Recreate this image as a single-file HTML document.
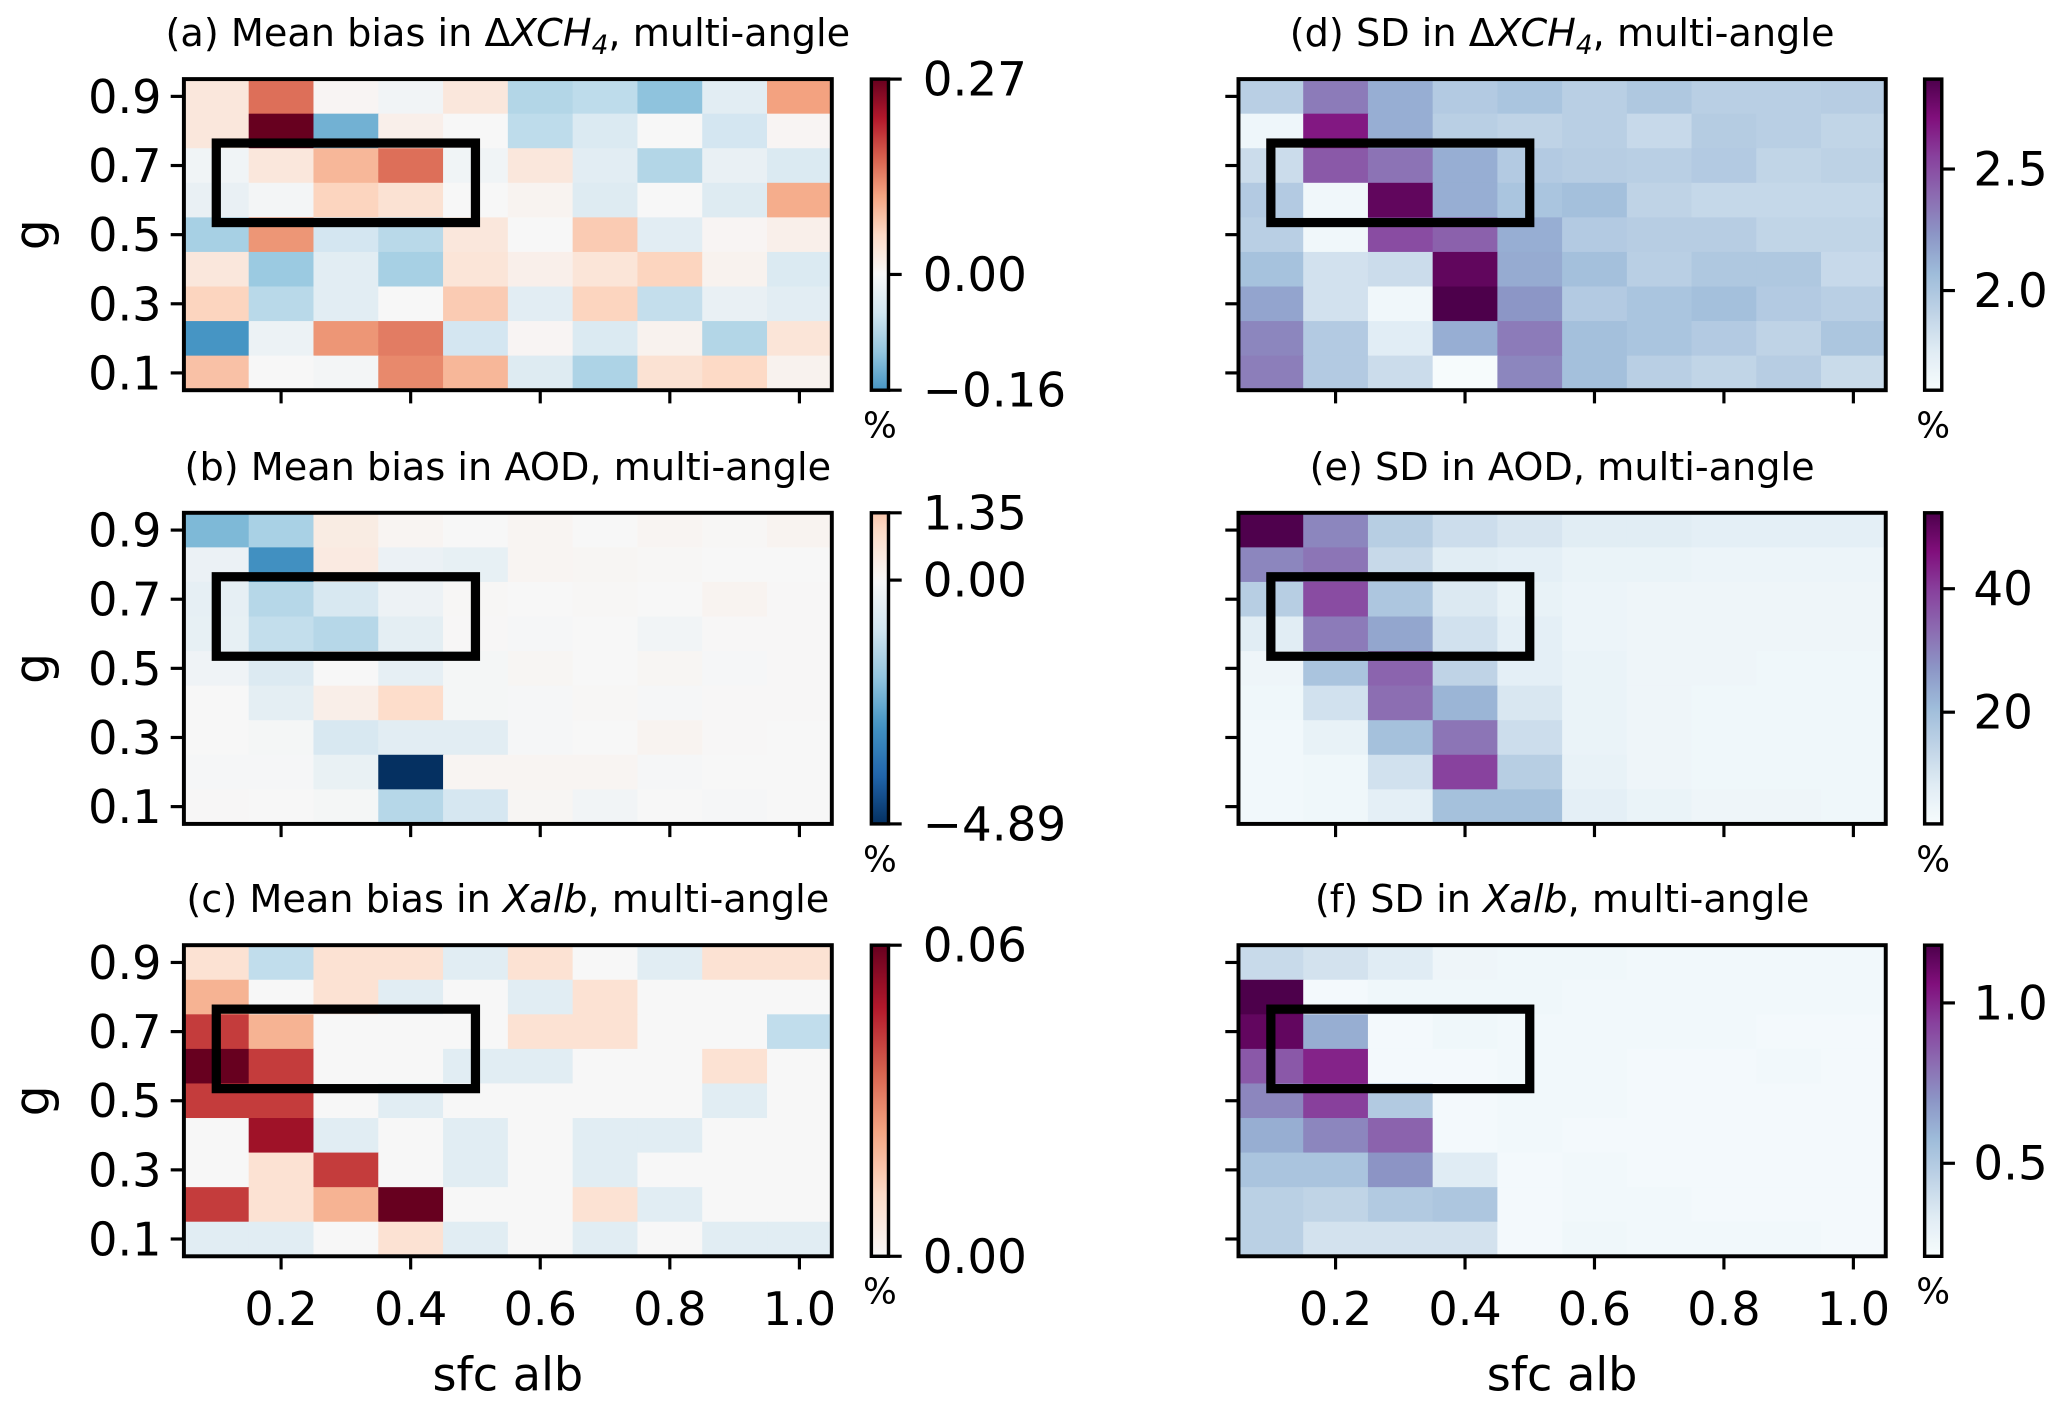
<!DOCTYPE html>
<html><head><meta charset="utf-8"><style>
html,body{margin:0;padding:0;background:#fff;}
svg{display:block;font-family:"DejaVu Sans","Liberation Sans",sans-serif;}
</style></head><body>
<svg id="fig" width="2067" height="1410" viewBox="0 0 1568 1069.6" xmlns="http://www.w3.org/2000/svg"></svg>
<script>
// ---------- data (rows from g=0.9 at top to g=0.1 at bottom; columns sfc alb 0.1..1.0) ----------
const albCategories = [0.1,0.2,0.3,0.4,0.5,0.6,0.7,0.8,0.9,1.0];
const gCategories = [0.9,0.8,0.7,0.6,0.5,0.4,0.3,0.2,0.1];
const xTickLabels = ["0.2","0.4","0.6","0.8","1.0"];
const yTickLabels = ["0.9","0.7","0.5","0.3","0.1"];

const biasXCH4 = [
 [0.03,0.15,0.005,-0.008,0.03,-0.08,-0.07,-0.11,-0.03,0.11],
 [0.03,0.27,-0.13,0.015,0,-0.07,-0.04,0,-0.05,0.005],
 [-0.01,0.03,0.09,0.15,-0.01,0.03,-0.03,-0.08,-0.02,-0.04],
 [-0.02,-0.005,0.06,0.04,0,0.008,-0.035,0,-0.035,0.1],
 [-0.09,0.12,-0.05,-0.075,0.03,0,0.07,-0.03,0.005,0.015],
 [0.03,-0.1,-0.03,-0.09,0.035,0.015,0.035,0.06,0.01,-0.04],
 [0.06,-0.075,-0.03,0,0.07,-0.03,0.06,-0.065,-0.02,-0.03],
 [-0.16,-0.015,0.12,0.14,-0.05,0.005,-0.04,0.01,-0.08,0.035],
 [0.08,0,-0.005,0.13,0.09,-0.035,-0.085,0.04,0.055,0.01]
];
const biasAOD = [
 [-2.2,-1.6,0.4,0.1,0,0.1,0,0.1,0.05,0.15],
 [-0.3,-3.0,0.45,-0.3,-0.4,0.1,0.08,0.05,0,0],
 [-0.45,-1.4,-0.8,-0.25,0.05,0,0.05,0,0.15,0.02],
 [-0.4,-1.2,-1.4,-0.5,0.02,-0.05,0,-0.15,0.02,0.02],
 [-0.2,-0.7,0,-0.45,-0.08,0.08,0,0.08,-0.05,0.02],
 [0,-0.5,0.3,0.9,-0.08,-0.05,0.05,-0.05,0.02,0.02],
 [0,-0.08,-0.8,-0.55,-0.55,-0.05,0,0.15,0.02,0],
 [-0.05,-0.05,-0.35,-4.89,0.1,0.1,0.1,-0.05,0,0],
 [0.02,0,-0.08,-1.4,-0.85,0.08,-0.15,0,-0.05,0]
];
const biasXalb = [
 [0.009,-0.015,0.009,0.009,-0.007,0.009,0,-0.007,0.009,0.009],
 [0.021,0,0.009,-0.007,0,-0.007,0.009,0,0,0],
 [0.042,0.021,0,0,0,0.009,0.009,0,0,-0.015],
 [0.06,0.042,0,0,-0.007,-0.007,0,0,0.009,0],
 [0.042,0.042,0,-0.007,0,0,0,0,-0.007,0],
 [0,0.051,-0.007,0,-0.007,0,-0.007,-0.007,0,0],
 [0,0.009,0.042,0,-0.007,0,-0.007,0,0,0],
 [0.042,0.009,0.021,0.06,0,0,0.009,-0.007,0,0],
 [-0.007,-0.007,0,0.009,-0.007,0,-0.007,0,-0.007,-0.007]
];
const sdXCH4 = [
 [1.94,2.33,2.13,1.97,2.01,1.94,1.99,1.94,1.94,1.95],
 [1.65,2.68,2.13,1.94,1.91,1.94,1.87,1.96,1.94,1.90],
 [1.85,2.46,2.36,2.13,1.97,1.95,1.94,1.97,1.90,1.92],
 [1.97,1.64,2.81,2.13,2.01,2.04,1.91,1.88,1.88,1.88],
 [1.94,1.64,2.51,2.43,2.13,1.97,1.95,1.95,1.90,1.90],
 [2.03,1.82,1.85,2.81,2.14,2.04,1.94,1.99,1.99,1.87],
 [2.17,1.82,1.64,2.87,2.23,1.97,2.01,2.04,1.97,1.94],
 [2.29,1.97,1.74,2.13,2.33,2.04,2.01,1.97,1.91,2.00],
 [2.32,1.97,1.85,1.60,2.29,2.04,1.94,1.90,1.95,1.86]
];
const sdAOD = [
 [52,29.5,16,12,10,8,8,7,7,7],
 [29.5,32,13,8,7,5.5,5.5,5,5,5],
 [16,38,18,9,6,5,4.5,4.5,4.5,4.5],
 [8,31,24.5,11,7,5,4.5,4.5,4.5,4.5],
 [4.5,18.5,34.5,14.5,7,5.5,4.5,4.5,4,4],
 [4,11,33,22,9.5,5.5,4.5,4,4,4],
 [3.5,6,19.5,32,12,5.5,4.5,4,4,4],
 [3.5,4,11,39.5,16,6,4.5,4,4,4],
 [3.5,4,7,19.5,19.5,7,5.5,4.5,4.5,4]
];
const sdXalb = [
 [0.42,0.38,0.33,0.26,0.25,0.25,0.24,0.24,0.24,0.24],
 [1.18,0.23,0.25,0.25,0.25,0.24,0.24,0.24,0.24,0.24],
 [1.13,0.62,0.23,0.25,0.24,0.24,0.24,0.24,0.23,0.23],
 [0.87,1.01,0.23,0.23,0.24,0.24,0.23,0.23,0.24,0.23],
 [0.74,0.94,0.50,0.23,0.24,0.24,0.23,0.23,0.23,0.23],
 [0.62,0.74,0.84,0.23,0.24,0.23,0.23,0.23,0.23,0.23],
 [0.53,0.53,0.70,0.33,0.23,0.24,0.23,0.23,0.23,0.23],
 [0.47,0.45,0.50,0.52,0.23,0.24,0.24,0.23,0.23,0.23],
 [0.47,0.38,0.38,0.38,0.23,0.25,0.24,0.24,0.24,0.23]
];
// colorbar ranges / ticks
const cbA = {lo:-0.16, hi:0.27, M:0.27, ticks:[0.27,0.00,-0.16], labels:["0.27","0.00","\u22120.16"]};
const cbB = {lo:-4.89, hi:1.35, M:4.89, ticks:[1.35,0.00,-4.89], labels:["1.35","0.00","\u22124.89"]};
const cbC = {lo:0, hi:0.06, M:0.06, ticks:[0.06,0.00], labels:["0.06","0.00"]};
const cbD = {lo:1.59, hi:2.87, ticks:[2.5,2.0], labels:["2.5","2.0"]};
const cbE = {lo:1.9, hi:52.3, ticks:[40,20], labels:["40","20"]};
const cbF = {lo:0.21, hi:1.18, ticks:[1.0,0.5], labels:["1.0","0.5"]};
const boxAlb = [0.1,0.5];
const boxG = [0.535,0.765];

// ---------- colormaps ----------
const RdBu_r = ["#053061","#2166ac","#4393c3","#92c5de","#d1e5f0","#f7f7f7","#fddbc7","#f4a582","#d6604d","#b2182b","#67001f"];
const BuPu = ["#f7fcfd","#e0ecf4","#bfd3e6","#9ebcda","#8c96c6","#8c6bb1","#88419d","#810f7c","#4d004b"];
function hex2rgb(h){return [parseInt(h.substr(1,2),16),parseInt(h.substr(3,2),16),parseInt(h.substr(5,2),16)];}
function cmap(stops,t){
  t=Math.max(0,Math.min(1,t));
  const n=stops.length-1, f=t*n, i=Math.min(n-1,Math.floor(f)), u=f-i;
  const a=hex2rgb(stops[i]), b=hex2rgb(stops[i+1]);
  return "rgb("+a.map((v,k)=>Math.round(v+(b[k]-v)*u)).join(",")+")";
}

const NS="http://www.w3.org/2000/svg";
const svg=document.getElementById("fig");
function mk(tag,attrs,parent){const e=document.createElementNS(NS,tag);for(const k in attrs)e.setAttribute(k,attrs[k]);(parent||svg).appendChild(e);return e;}

let gradId=0;
function panel(opts){
  const {x0,x1,y0,y1,data,div,cb,title,name,showXLabels,cbx}=opts;
  const g=mk("g",{});
  
  
  const colW=(x1-x0)/albCategories.length, rowH=(y1-y0)/gCategories.length;
  const xScale=v=>x0+(v-0.05)/0.1*colW;
  const yScale=v=>y0+(0.95-v)/0.1*rowH;
  const colorOf=v=>div?cmap(RdBu_r,(v+cb.M)/(2*cb.M)):cmap(BuPu,(v-cb.lo)/(cb.hi-cb.lo));
  gCategories.forEach((gv,r)=>{
    albCategories.forEach((av,c)=>{
      const cell=mk("rect",{x:xScale(av-0.05),y:yScale(gv+0.05),width:colW+0.6,height:rowH+0.6,fill:colorOf(data[r][c])},g);
      
      
    });
  });
  const box=mk("rect",{x:xScale(boxAlb[0]),y:yScale(boxG[1]),width:xScale(boxAlb[1])-xScale(boxAlb[0]),height:yScale(boxG[0])-yScale(boxG[1]),fill:"none",stroke:"#000","stroke-width":7},g);
  
  
  const fr=mk("rect",{x:x0,y:y0,width:x1-x0,height:y1-y0,fill:"none",stroke:"#000","stroke-width":3},g);
  
  
  yTickLabels.forEach(l=>{
    const yy=yScale(parseFloat(l));
    mk("line",{x1:x0-10,x2:x0,y1:yy,y2:yy,stroke:"#000","stroke-width":2.4},g);
    if(opts.showYLabels){
      const t=mk("text",{x:x0-17,y:yy+12.5,"font-size":35,"text-anchor":"end"},g);
      t.textContent=l;
      
      
    }
  });
  xTickLabels.forEach(l=>{
    const xx=xScale(parseFloat(l));
    mk("line",{x1:xx,x2:xx,y1:y1,y2:y1+10,stroke:"#000","stroke-width":2.4},g);
    if(showXLabels){
      const t=mk("text",{x:xx,y:y1+52,"font-size":35,"text-anchor":"middle"},g);
      t.textContent=l;
      
      
    }
  });
  const tt=mk("text",{x:(x0+x1)/2,y:y0-25,"font-size":29,"text-anchor":"middle"},g);
  tt.innerHTML=title;
  
  
  if(opts.showYLabels){
    const yl=mk("text",{x:0,y:0,"font-size":37,"text-anchor":"middle",transform:"translate(37,"+((y0+y1)/2)+") rotate(-90)"},g);
    yl.textContent="g";
    
    
  }
  if(showXLabels){
    const xl=mk("text",{x:(x0+x1)/2,y:y1+102,"font-size":35,"text-anchor":"middle"},g);
    xl.textContent="sfc alb";
    
    
  }
  const cbw=13, cby0=y0, cby1=y1;
  const id="cg"+(gradId++);
  const defs=mk("defs",{},g);
  const lg=mk("linearGradient",{id:id,x1:0,y1:1,x2:0,y2:0},defs);
  for(let i=0;i<=40;i++){
    const v=cb.lo+(cb.hi-cb.lo)*i/40;
    mk("stop",{offset:(i/40),"stop-color":colorOf(v)},lg);
  }
  const cbr=mk("rect",{x:cbx,y:cby0,width:cbw,height:cby1-cby0,fill:"url(#"+id+")",stroke:"#000","stroke-width":2.6},g);
  
  
  const cs=v=>cby1-(v-cb.lo)/(cb.hi-cb.lo)*(cby1-cby0);
  cb.ticks.forEach((tv,i)=>{
    const yy=cs(tv);
    mk("line",{x1:cbx+cbw,x2:cbx+cbw+10,y1:yy,y2:yy,stroke:"#000","stroke-width":2.4},g);
    const t=mk("text",{x:cbx+cbw+(div?26:24),y:yy+12.5,"font-size":35.5},g);
    t.textContent=cb.labels[i];
    
    
  });
  const pc=mk("text",{x:cbx+cbw/2,y:cby1+36,"font-size":27,"text-anchor":"middle"},g);
  pc.textContent="%";
  
  
}
const XC='Δ<tspan font-style="italic">XCH</tspan><tspan font-style="italic" font-size="20" dy="6">4</tspan><tspan dy="-6">, multi-angle</tspan>';
const L=[139.5,631], R=[939.5,1430.5];
const rows=[[60,296],[389,625],[717,953]];
panel({x0:L[0],x1:L[1],y0:rows[0][0],y1:rows[0][1],data:biasXCH4,div:true,cb:cbA,title:"(a) Mean bias in "+XC,name:"panel-a-bias-xch4",showXLabels:false,showYLabels:true,cbx:661});
panel({x0:L[0],x1:L[1],y0:rows[1][0],y1:rows[1][1],data:biasAOD,div:true,cb:cbB,title:"(b) Mean bias in AOD, multi-angle",name:"panel-b-bias-aod",showXLabels:false,showYLabels:true,cbx:661});
panel({x0:L[0],x1:L[1],y0:rows[2][0],y1:rows[2][1],data:biasXalb,div:true,cb:cbC,title:'(c) Mean bias in <tspan font-style="italic">Xalb</tspan>, multi-angle',name:"panel-c-bias-xalb",showXLabels:true,showYLabels:true,cbx:661});
panel({x0:R[0],x1:R[1],y0:rows[0][0],y1:rows[0][1],data:sdXCH4,div:false,cb:cbD,title:"(d) SD in "+XC,name:"panel-d-sd-xch4",showXLabels:false,showYLabels:false,cbx:1460});
panel({x0:R[0],x1:R[1],y0:rows[1][0],y1:rows[1][1],data:sdAOD,div:false,cb:cbE,title:"(e) SD in AOD, multi-angle",name:"panel-e-sd-aod",showXLabels:false,showYLabels:false,cbx:1460});
panel({x0:R[0],x1:R[1],y0:rows[2][0],y1:rows[2][1],data:sdXalb,div:false,cb:cbF,title:'(f) SD in <tspan font-style="italic">Xalb</tspan>, multi-angle',name:"panel-f-sd-xalb",showXLabels:true,showYLabels:false,cbx:1460});
</script>
</body></html>
